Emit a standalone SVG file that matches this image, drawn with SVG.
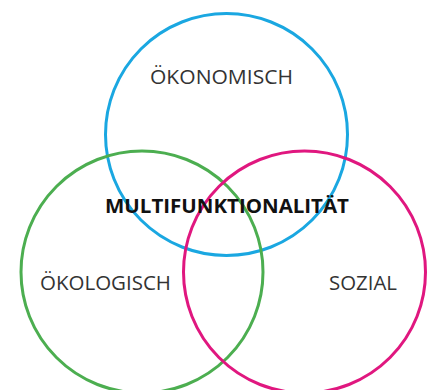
<svg xmlns="http://www.w3.org/2000/svg" width="427" height="390" viewBox="0 0 427 390">
<style>
.c{fill:none;stroke-width:3}
.t{font-family:"Open Sans","Noto Sans","Liberation Sans",sans-serif;font-size:19.5px;fill:#333}
.b{font-family:"Open Sans","Noto Sans","Liberation Sans",sans-serif;font-size:19.5px;font-weight:bold;fill:#111}
</style>
<rect width="427" height="390" fill="#fff"/>
<g id="oekonomisch">
<circle class="c" cx="226.5" cy="134.5" r="121" stroke="#1aa7e1"/>
<text class="t" x="150" y="84" textLength="143" lengthAdjust="spacingAndGlyphs">ÖKONOMISCH</text>
</g>
<g id="oekologisch">
<circle class="c" cx="142" cy="272" r="121" stroke="#4cae50"/>
<text class="t" x="40" y="290" textLength="131" lengthAdjust="spacingAndGlyphs">ÖKOLOGISCH</text>
</g>
<g id="sozial">
<circle class="c" cx="304.5" cy="272" r="121" stroke="#e0177f"/>
<text class="t" x="329" y="290" textLength="68" lengthAdjust="spacingAndGlyphs">SOZIAL</text>
</g>
<g id="multifunktionalitaet">
<text class="b" x="105" y="212.5" textLength="244" lengthAdjust="spacingAndGlyphs">MULTIFUNKTIONALITÄT</text>
</g>
<g id="connectors"/>
</svg>
